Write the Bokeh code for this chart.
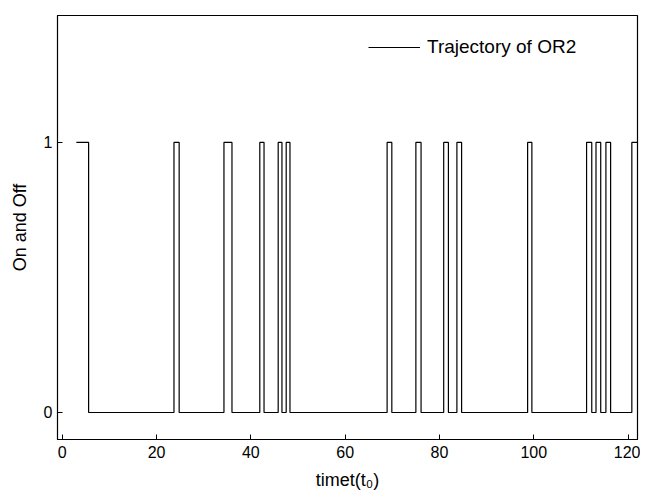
from bokeh.plotting import figure
from bokeh.models import Range1d, FixedTicker, Legend, LegendItem
from bokeh.embed import file_html
from bokeh.resources import INLINE

# Transition times (rise, fall) of the OR2 on/off trajectory
rise_times = [3.0, 23.7, 34.3, 41.9, 45.8, 47.5, 68.9, 75.0, 80.9, 83.7, 98.7, 111.2, 113.2, 115.3, 120.8]
fall_times = [5.6, 24.8, 36.0, 42.8, 46.6, 48.3, 69.9, 76.1, 81.9, 84.7, 99.6, 112.3, 114.2, 116.3]
t_end = 122.0
x_ticks = [0, 20, 40, 60, 80, 100, 120]
y_ticks = [0, 1]

# build step coordinates
xs, ys = [], []
for i, r in enumerate(rise_times):
    xs.append(r); ys.append(1)
    if i < len(fall_times):
        xs.append(fall_times[i]); ys.append(0)
xs.append(t_end); ys.append(ys[-1])

FONT = "Liberation Sans"

p = figure(width=640, height=492, output_backend="svg", toolbar_location=None,
           x_range=Range1d(-1, t_end), y_range=Range1d(-0.1, 1.47),
           min_border_left=57, min_border_right=3, min_border_top=15, min_border_bottom=52)

r = p.step(xs, ys, mode="after", line_color="black", line_width=1.2)

p.xgrid.visible = False
p.ygrid.visible = False
p.outline_line_color = "black"
p.outline_line_width = 1.2

for ax in (p.xaxis[0], p.yaxis[0]):
    ax.major_tick_in = 5
    ax.major_tick_out = 0
    ax.minor_tick_line_color = None
    ax.axis_line_color = "black"
    ax.major_label_text_font = FONT
    ax.major_label_text_font_size = "16px"
    ax.major_label_text_color = "black"
    ax.axis_label_text_font = FONT
    ax.axis_label_text_font_size = "18px"
    ax.axis_label_text_font_style = "normal"
    ax.axis_label_text_color = "black"

p.xaxis.ticker = FixedTicker(ticks=x_ticks)
p.yaxis.ticker = FixedTicker(ticks=y_ticks)
p.xaxis.axis_label = "timet(t\u2080)"
p.yaxis.axis_label = "On and Off"
p.yaxis.major_label_orientation = "horizontal"
p.xaxis.major_label_standoff = 6
p.yaxis.major_label_standoff = 5
p.xaxis.axis_label_standoff = 9
p.yaxis.axis_label_standoff = 11

legend = Legend(items=[LegendItem(label="Trajectory of OR2", renderers=[r])],
                location=(311, 381), border_line_color=None, background_fill_alpha=0,
                padding=0, margin=0, glyph_width=52, glyph_height=20, label_standoff=7,
                label_text_font=FONT, label_text_font_size="19px", label_text_color="black")
p.add_layout(legend, "center")

open("out.html", "w").write(file_html(p, INLINE))
